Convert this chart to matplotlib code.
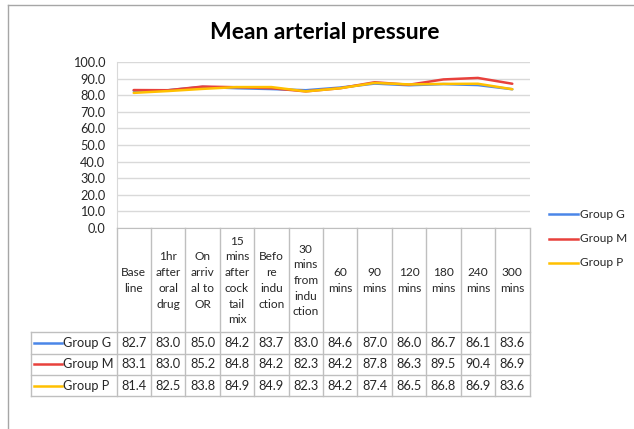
import matplotlib
matplotlib.use("Agg")
import matplotlib.pyplot as plt
from matplotlib.lines import Line2D

plt.rcParams['font.family'] = ['Lato', 'DejaVu Sans']

title = "Mean arterial pressure"
categories = [
    "Base\nline", "1hr\nafter\noral\ndrug", "On\narriv\nal to\nOR",
    "15\nmins\nafter\ncock\ntail\nmix", "Befo\nre\nindu\nction",
    "30\nmins\nfrom\nindu\nction", "60\nmins", "90\nmins", "120\nmins",
    "180\nmins", "240\nmins", "300\nmins",
]
series_names = ["Group G", "Group M", "Group P"]
group_g = [82.7, 83.0, 85.0, 84.2, 83.7, 83.0, 84.6, 87.0, 86.0, 86.7, 86.1, 83.6]
group_m = [83.1, 83.0, 85.2, 84.8, 84.2, 82.3, 84.2, 87.8, 86.3, 89.5, 90.4, 86.9]
group_p = [81.4, 82.5, 83.8, 84.9, 84.9, 82.3, 84.2, 87.4, 86.5, 86.8, 86.9, 83.6]
series_values = [group_g, group_m, group_p]
colors = ["#4a86e8", "#e8413c", "#ffc000"]
y_ticks = [0, 10, 20, 30, 40, 50, 60, 70, 80, 90, 100]

W, H = 634, 429
fig = plt.figure(figsize=(W / 100, H / 100), dpi=100)


def fx(px):
    return px / W


def fy(py):
    return 1 - py / H


grid_c = "#d9d9d9"
tbl_c = "#bfbfbf"
txt_c = "#262626"
fs = 8.6

# outer chart border
fig.add_artist(Line2D([fx(8), fx(8)], [fy(5), fy(H + 5)], color="#a6a6a6", lw=1))
fig.add_artist(Line2D([fx(8), fx(W + 5)], [fy(5), fy(5)], color="#a6a6a6", lw=1))

left, right, top, bottom = 116.5, 529.5, 62, 228
ax = fig.add_axes([fx(left), fy(bottom), fx(right - left), (bottom - top) / H])
n = len(categories)
xs = [i + 0.5 for i in range(n)]
for vals, c in zip(series_values, colors):
    ax.plot(xs, vals, color=c, lw=1.8, solid_capstyle="round", zorder=3)
ax.set_xlim(0, n)
ax.set_ylim(0, 100)
ax.set_yticks(y_ticks)
ax.set_yticklabels([f"{v:.1f}" for v in y_ticks], fontsize=fs + 0.6, color=txt_c)
ax.tick_params(axis="y", length=0, pad=8)
ax.set_xticks([])
ax.grid(axis="y", color=grid_c, lw=1)
ax.set_axisbelow(True)
for s in ["top", "right"]:
    ax.spines[s].set_visible(False)
ax.spines["left"].set_color(grid_c)
ax.spines["bottom"].set_color(tbl_c)

fig.text(fx(325), fy(32.5), title, ha="center", va="center",
         fontsize=16.5, fontweight="bold", color="#000000")

# data table under the plot
colw = (right - left) / n
row_tops = [332, 353.5, 375, 396]
tbl_left = 31
for k in range(n + 1):
    x = left + k * colw
    fig.add_artist(Line2D([fx(x), fx(x)], [fy(bottom), fy(row_tops[-1])], color=tbl_c, lw=1))
fig.add_artist(Line2D([fx(tbl_left), fx(tbl_left)], [fy(row_tops[0]), fy(row_tops[-1])], color=tbl_c, lw=1))
for y in row_tops:
    fig.add_artist(Line2D([fx(tbl_left), fx(right)], [fy(y), fy(y)], color=tbl_c, lw=1))

for i, lab in enumerate(categories):
    fig.text(fx(left + (i + 0.5) * colw), fy((bottom + row_tops[0]) / 2 + 0.5), lab,
             ha="center", va="center", fontsize=fs, color=txt_c, linespacing=1.52)

for r, (name, vals, c) in enumerate(zip(series_names, series_values, colors)):
    yc = (row_tops[r] + row_tops[r + 1]) / 2
    fig.add_artist(Line2D([fx(34), fx(62)], [fy(yc), fy(yc)], color=c, lw=1.8))
    fig.text(fx(63), fy(yc), name, ha="left", va="center", fontsize=fs + 0.6, color=txt_c)
    for i, v in enumerate(vals):
        fig.text(fx(left + (i + 0.5) * colw), fy(yc), f"{v:.1f}", ha="center",
                 va="center", fontsize=fs + 0.6, color=txt_c)

# legend on the right
for r, (name, c) in enumerate(zip(series_names, colors)):
    yc = 214 + r * 24.5
    fig.add_artist(Line2D([fx(549), fx(578)], [fy(yc), fy(yc)], color=c, lw=1.8))
    fig.text(fx(580), fy(yc), name, ha="left", va="center", fontsize=fs, color=txt_c)

fig.savefig("out.png", dpi=100, facecolor="white")
